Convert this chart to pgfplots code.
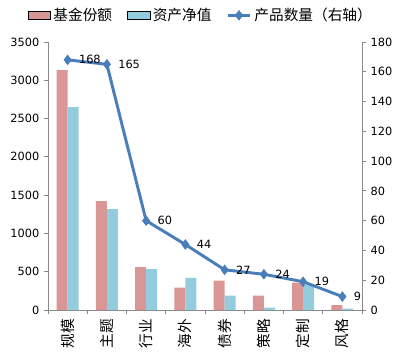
\documentclass[border=0pt]{standalone}
\usepackage{fontspec}
\setmainfont{DejaVu Sans}
\newfontfamily\cjk{Noto Sans CJK SC}
\usepackage{pgfplots}
\pgfplotsset{compat=1.18}
\definecolor{barred}{HTML}{D99694}
\definecolor{barblue}{HTML}{93CDDD}
\definecolor{lineblue}{HTML}{4A7EBB}
\definecolor{axgray}{HTML}{898989}
\begin{document}
\begin{tikzpicture}
\begin{axis}[
  name=ax,
  scale only axis, width=235.5pt, height=201pt,
  xmin=-0.5, xmax=7.5, ymin=0, ymax=3500,
  axis x line*=bottom, axis y line*=left,
  axis line style={draw=axgray, line width=0.6pt},
  ytick={0,500,...,3500},
  xtick={0,...,7},
  xticklabels={规模,主题,行业,海外,债券,策略,定制,风格},
  xticklabel style={rotate=90, anchor=east, font=\cjk\fontsize{11}{11}\selectfont},
  minor xtick={-0.5,0.5,...,7.5},
  major x tick style={draw=none},
  minor x tick style={draw=axgray, line width=0.6pt},
  minor tick length=3pt,
  ytick style={draw=axgray, line width=0.6pt},
  major tick length=3pt,
  tick align=outside,
  yticklabel style={font=\fontsize{8.5}{8.5}\selectfont},
  /pgf/number format/assume math mode=true,
  /pgf/number format/1000 sep={},
  scaled y ticks=false,
  ybar=0pt, bar width=0.28,
  clip=false,
]
\addplot[draw=none, fill=barred] coordinates {(0,3134) (1,1423) (2,561) (3,291) (4,383) (5,187) (6,357) (7,65)};
\addplot[draw=none, fill=barblue] coordinates {(0,2651) (1,1319) (2,535) (3,418) (4,187) (5,30) (6,330) (7,17)};
\end{axis}
\begin{axis}[
  scale only axis, width=235.5pt, height=201pt,
  xmin=-0.5, xmax=7.5, ymin=0, ymax=180,
  axis x line=none, axis y line*=right,
  axis line style={draw=axgray, line width=0.6pt},
  ytick={0,20,...,180},
  ytick style={draw=axgray, line width=0.6pt},
  major tick length=3pt,
  tick align=outside,
  yticklabel style={font=\fontsize{8.5}{8.5}\selectfont},
  /pgf/number format/assume math mode=true,
  clip=false,
  legend style={at={(0.5,1)}, anchor=center, xshift=-3pt, yshift=20pt, draw=none, fill=none,
    legend columns=3, font=\cjk\fontsize{11}{11}\selectfont},
]
\addlegendimage{area legend, draw=none, fill=barred}
\addlegendentry{基金份额\rule{9pt}{0pt}}
\addlegendimage{area legend, draw=none, fill=barblue}
\addlegendentry{资产净值\rule{9pt}{0pt}}
\addplot[color=lineblue, line width=2.2pt, mark=diamond*, mark size=3.6pt, mark options={solid, line width=0.5pt},
  nodes near coords, nodes near coords style={anchor=west, xshift=5pt, text=black, font=\fontsize{8.5}{8.5}\selectfont}]
  coordinates {(0,168) (1,165) (2,60) (3,44) (4,27) (5,24) (6,19) (7,9)};
\addlegendentry{产品数量（右轴）}
\end{axis}
\pgfresetboundingbox
\path ([shift={(-36pt,-33pt)}]ax.south west) rectangle ([shift={(30pt,31.5pt)}]ax.north east);
\end{tikzpicture}
\end{document}
